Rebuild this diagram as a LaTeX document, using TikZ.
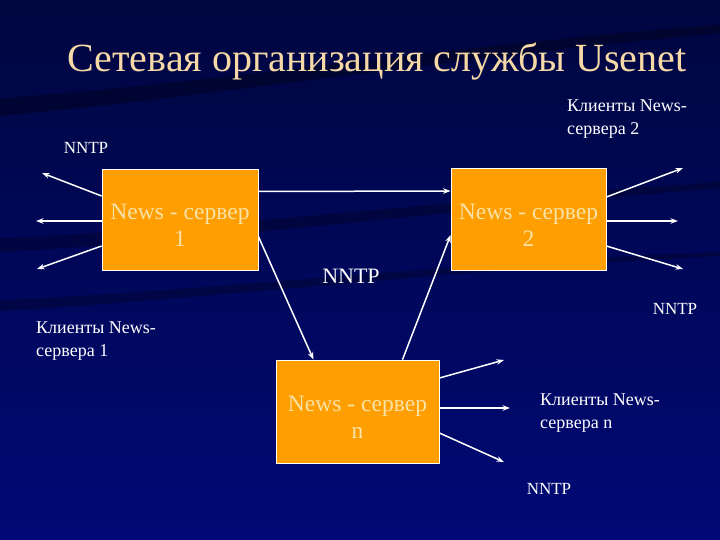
\documentclass[tikz,border=0pt]{standalone}
\usepackage{fontspec}
\setmainfont{Liberation Serif}
\usetikzlibrary{arrows.meta}

\definecolor{slidebg}{HTML}{000A66}
\definecolor{slidetop}{HTML}{00063F}
\definecolor{boxorange}{HTML}{FF9E00}
\definecolor{boxtext}{HTML}{F8E2A6}
\definecolor{titletext}{HTML}{F6D9A6}

\tikzset{
  server/.style = {draw=white, line width=0.8pt, fill=boxorange, text=boxtext,
    font=\fontsize{23.5}{27}\selectfont, align=center, inner sep=0pt,
    text height=54pt},
  link/.style = {white, line width=1.5pt, -{Stealth[length=7.5pt, width=5.5pt]}},
  lbl/.style = {text=white, font=\fontsize{17}{20}\selectfont, inner sep=0pt},
  clients/.style = {lbl, align=left, anchor=west, font=\fontsize{18}{23}\selectfont}
}

\begin{document}
\begin{tikzpicture}[x=1pt, y=-1pt]
\useasboundingbox (0, 0) rectangle (720, 540);
\shade[top color=slidetop, bottom color=slidebg!90!blue] (0, 0) rectangle (720, 540);

% dark streaks of the background
\fill[black, opacity=0.3] (0, 98) .. controls (200, 85) and (450, 45) .. (720, 25) -- (720, 33) .. controls (450, 58) and (200, 98) .. (0, 116) -- cycle;
\fill[black, opacity=0.25] (0, 238) .. controls (200, 230) and (450, 200) .. (720, 182) -- (720, 188) .. controls (450, 210) and (200, 242) .. (0, 252) -- cycle;
\fill[black, opacity=0.25] (0, 300) .. controls (200, 292) and (450, 262) .. (720, 252) -- (720, 256) .. controls (450, 270) and (200, 300) .. (0, 311) -- cycle;

% title
\node[text=titletext, font=\fontsize{40}{44}\selectfont, inner sep=0pt] (title) at (377, 62) {Сетевая организация службы Usenet};

% servers
\node[server, minimum width=156pt, minimum height=101pt] (s1) at (180, 219.5) {News - сервер\\1};
\node[server, minimum width=155pt, minimum height=102pt] (s2) at (528.5, 219) {News - сервер\\2};
\node[server, minimum width=163pt, minimum height=103pt] (sn) at (357.5, 411.5) {News - сервер\\n};

% links between servers
\draw[link] ([yshift=28pt]s1.east) -- ([yshift=28pt]s2.west);
\draw[link] ([yshift=-17pt]s1.east) -- ([xshift=-44pt]sn.north);
\draw[link] ([xshift=45pt]sn.north) -- ([yshift=-16pt]s2.west);
\node[lbl, font=\fontsize{22}{25}\selectfont] (nntp0) at (351, 276) {NNTP};

% clients of server 1
\coordinate (c1a) at (42, 173);
\coordinate (c1b) at (36, 221);
\coordinate (c1c) at (37, 269);
\draw[link] ([yshift=23.5pt]s1.west) -- (c1a);
\draw[link] ([yshift=-1.5pt]s1.west) -- (c1b);
\draw[link] ([yshift=-26.5pt]s1.west) -- (c1c);
\node[lbl] (nntp1) at (86, 148) {NNTP};
\node[clients] (cl1) at (36, 341) {Клиенты News-\\сервера 1};

% clients of server 2
\coordinate (c2a) at (683, 168);
\coordinate (c2b) at (678, 221);
\coordinate (c2c) at (683, 269);
\draw[link] ([yshift=22pt]s2.east) -- (c2a);
\draw[link] ([yshift=-2pt]s2.east) -- (c2b);
\draw[link] ([yshift=-27pt]s2.east) -- (c2c);
\node[lbl] (nntp2) at (675, 309) {NNTP};
\node[clients] (cl2) at (567, 119) {Клиенты News-\\сервера 2};

% clients of server n
\coordinate (cna) at (504, 360);
\coordinate (cnb) at (510, 408);
\coordinate (cnc) at (504, 462);
\draw[link] ([yshift=33.5pt]sn.east) -- (cna);
\draw[link] ([yshift=3.5pt]sn.east) -- (cnb);
\draw[link] ([yshift=-21.5pt]sn.east) -- (cnc);
\node[lbl] (nntpn) at (549, 489) {NNTP};
\node[clients] (cln) at (540, 413) {Клиенты News-\\сервера n};
\end{tikzpicture}
\end{document}
